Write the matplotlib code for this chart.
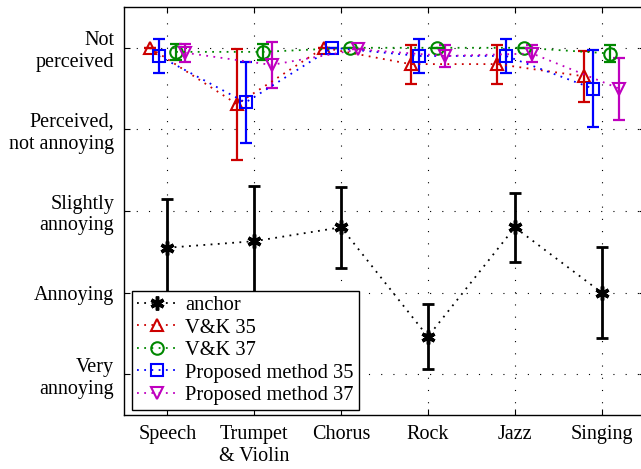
import numpy as np
import matplotlib
matplotlib.use("Agg")
import matplotlib.pyplot as plt

plt.rcParams["font.family"] = ["Liberation Serif", "DejaVu Serif"]

# -----------------------------
# Data
# -----------------------------
categories = ["Speech", "Trumpet\n& Violin", "Chorus", "Rock", "Jazz", "Singing"]
y_labels = ["Very\nannoying", "Annoying", "Slightly\nannoying",
            "Perceived,\nnot annoying", "Not\nperceived"]

anchor_mean = [2.55, 2.63, 2.80, 1.46, 2.80, 2.00]
anchor_err = [0.60, 0.68, 0.50, 0.40, 0.42, 0.56]

vk35_mean = [5.00, 4.31, 5.00, 4.80, 4.80, 4.65]
vk35_err = [0.00, 0.68, 0.00, 0.24, 0.24, 0.31]

vk37_mean = [4.95, 4.95, 5.00, 5.00, 5.00, 4.93]
vk37_err = [0.10, 0.10, 0.00, 0.00, 0.00, 0.11]

prop35_mean = [4.90, 4.33, 5.00, 4.90, 4.90, 4.50]
prop35_err = [0.21, 0.50, 0.00, 0.21, 0.21, 0.47]

prop37_mean = [4.94, 4.79, 4.98, 4.90, 4.93, 4.50]
prop37_err = [0.11, 0.28, 0.00, 0.14, 0.11, 0.38]

series = [
    ("anchor", anchor_mean, anchor_err, "black", (6, 2, 0), 0.0),
    ("V&K 35", vk35_mean, vk35_err, "#cc0000", "^", -0.2),
    ("V&K 37", vk37_mean, vk37_err, "#008800", "o", 0.1),
    ("Proposed method 35", prop35_mean, prop35_err, "#0000ff", "s", -0.1),
    ("Proposed method 37", prop37_mean, prop37_err, "#bf00bf", "v", 0.2),
]

# -----------------------------
# Plot
# -----------------------------
fig = plt.figure(figsize=(6.41, 4.69), dpi=100)
ax = fig.add_axes([0.1934, 0.1151, 0.813, 0.870])

x = np.arange(1, len(categories) + 1)

handles = []
for name, mean, err, color, marker, shift in series:
    xs = x + shift
    if name == "anchor":
        ax.errorbar(xs, mean, yerr=err, fmt="none", ecolor=color,
                    elinewidth=2.0, capsize=4, capthick=2.0, zorder=3)
        h, = ax.plot(xs, mean, linestyle=(0, (1, 3)), color=color,
                     linewidth=1.3, marker=marker, markersize=10,
                     markeredgewidth=2.5, label=name, zorder=4)
    else:
        ax.errorbar(xs, mean, yerr=err, fmt="none", ecolor=color,
                    elinewidth=1.6, capsize=4, capthick=1.6, zorder=3)
        h, = ax.plot(xs, mean, linestyle=(0, (1, 3)), color=color,
                     linewidth=1.3, marker=marker, markersize=9,
                     markerfacecolor="none", markeredgewidth=1.5,
                     label=name, zorder=4)
    handles.append(h)

ax.set_xlim(0.5, 6.5)
ax.set_ylim(0.5, 5.5)
ax.set_xticks(x)
ax.set_xticklabels(categories, fontsize=14.5)
ax.set_yticks([1, 2, 3, 4, 5])
ax.set_yticklabels(y_labels, fontsize=14.5, multialignment="right")

ax.tick_params(direction="in", length=4, top=True, right=True, pad=7)
ax.grid(True, color="black", linestyle=(0, (1, 10)), linewidth=0.8)

for s in ax.spines.values():
    s.set_linewidth(1.0)

leg = ax.legend(handles=handles, loc="lower left",
                bbox_to_anchor=(0.015, 0.012), fontsize=14.8,
                fancybox=False, edgecolor="black", framealpha=1,
                handlelength=2.0, borderpad=0.25, labelspacing=0.15,
                handletextpad=0.35, borderaxespad=0)
leg.get_frame().set_linewidth(1.0)

plt.savefig("out.png", dpi=100)
